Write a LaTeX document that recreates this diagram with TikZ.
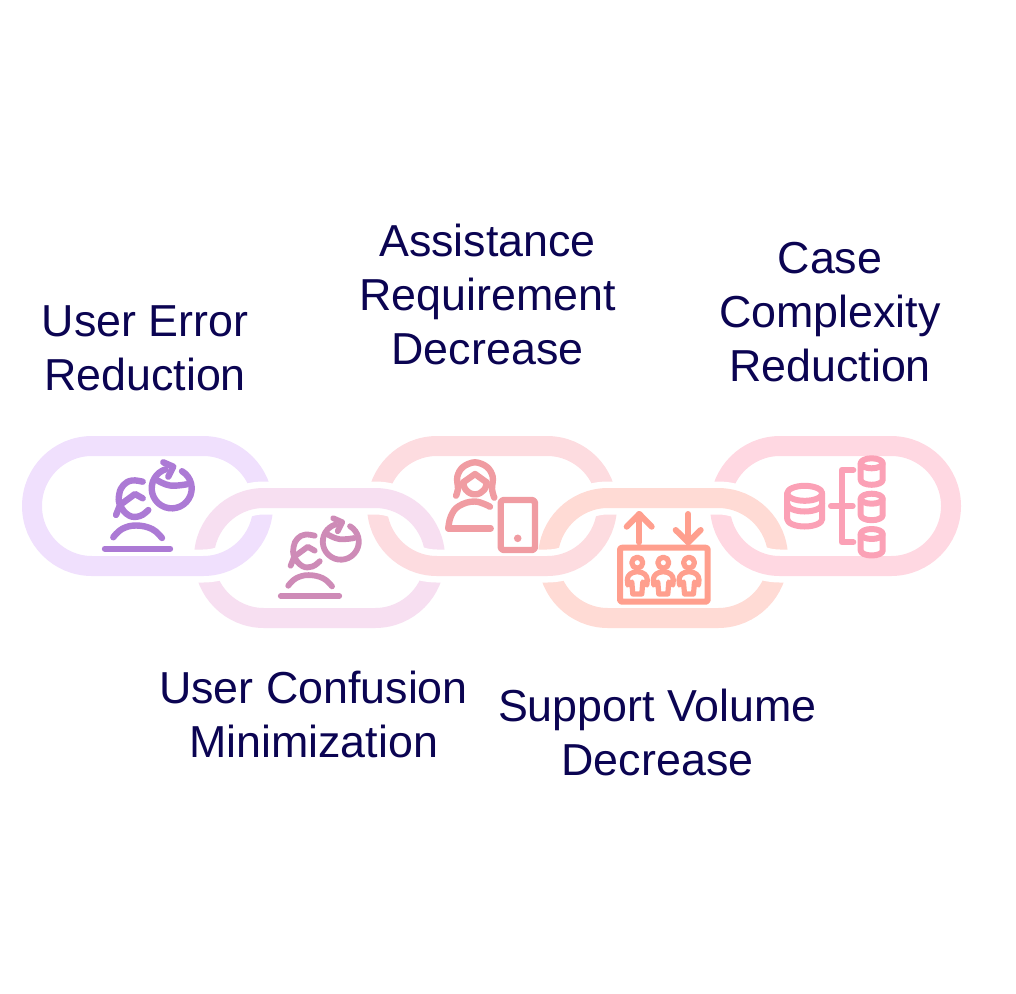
\documentclass[tikz,border=0pt]{standalone}
\usepackage{fontspec}
\setmainfont{Liberation Sans}
\definecolor{linkA}{HTML}{F0E0FD}
\definecolor{linkB}{HTML}{F7DFF1}
\definecolor{linkC}{HTML}{FDDCE0}
\definecolor{linkD}{HTML}{FFDBD5}
\definecolor{linkE}{HTML}{FFD8E2}
\definecolor{iconA}{HTML}{AC7AD5}
\definecolor{iconB}{HTML}{CE8BB7}
\definecolor{iconC}{HTML}{F09CA2}
\definecolor{iconD}{HTML}{FF9F8E}
\definecolor{iconE}{HTML}{FBA1B6}
\definecolor{labelink}{HTML}{0B0452}
\tikzset{
  x=1pt,y=-1pt,
  linkring/.style={line width=20pt,rounded corners=60pt},
  linkhalo/.style={line width=33pt,rounded corners=60pt,draw=white},
  iconline/.style={line width=6.4pt,line cap=round,line join=round},
  caption/.style={font=\fontsize{44.8}{54}\selectfont,text=labelink,align=center,inner sep=0pt},
}
\newcommand\errorperson{%
  \draw (105,548.7) -- (170,548.7);
  \draw plot[smooth,tension=.7] coordinates {(113.3,537.3) (122,529) (136,525.5) (152,529) (162,538)};
  \draw plot[smooth,tension=.7] coordinates {(142.7,481.7) (132,480.5) (123.5,485) (119.3,494) (120,505) (129,515.5) (140,516) (148.3,510)};
  \draw (116,515) -- (120,505) -- (135,494) -- (142.7,498.3);
  \draw (182,471.2) arc[start angle=-59,delta angle=311,radius=20];
  \draw (163.3,462.3) -- (173.3,466.7) -- (168.3,476.7);
  \draw plot[smooth,tension=.7] coordinates {(156.7,480) (170,485.5) (186.7,484.3)};
}
\begin{document}
\begin{tikzpicture}
\useasboundingbox (0,0) rectangle (1016,993);
% lower layer: odd links
\draw[linkring,draw=linkA] (32,446) rectangle (263,566);
\draw[linkring,draw=linkC] (377,446) rectangle (607,566);
\draw[linkring,draw=linkE] (720,446) rectangle (951,566);
% even links pass above them
\draw[linkhalo] (204,498) rectangle (435,618);
\draw[linkhalo] (548,498) rectangle (778,618);
\draw[linkring,draw=linkB] (204,498) rectangle (435,618);
\draw[linkring,draw=linkD] (548,498) rectangle (778,618);
% lower halves of odd links pass above the even links
\begin{scope}
  \clip (0,530) rectangle (1016,640);
  \draw[linkhalo] (32,446) rectangle (263,566);
  \draw[linkhalo] (377,446) rectangle (607,566);
  \draw[linkhalo] (720,446) rectangle (951,566);
  \draw[linkring,draw=linkA] (32,446) rectangle (263,566);
  \draw[linkring,draw=linkC] (377,446) rectangle (607,566);
  \draw[linkring,draw=linkE] (720,446) rectangle (951,566);
\end{scope}
% icon 1 and 2
\begin{scope}[iconline,draw=iconA]
  \errorperson
\end{scope}
\begin{scope}[iconline,line width=5.8pt,draw=iconB,shift={(310,596)},scale=.9,shift={(-137.5,-548.7)}]
  \errorperson
\end{scope}
% icon 3
\begin{scope}[iconline,draw=iconC]
  \draw plot[smooth,tension=.6] coordinates {(456,495.7) (458,489) (457.3,476.7) (463,467) (475,462.3) (487,467) (492.7,476.7) (492,489) (494.3,497.7)};
  \draw (463.3,482.3) -- (475,474) -- (486.5,482.3);
  \draw plot[smooth,tension=.8] coordinates {(463.3,482.3) (466,490) (475,494.3) (484,490) (486.5,482.3)};
  \draw plot[smooth,tension=.7] coordinates {(490,506.7) (475,501.5) (459,506) (451,516) (448.3,528.3)};
  \draw (448.3,528.3) -- (490.7,528.3);
  \draw[rounded corners=3pt] (500.7,500) rectangle (535,550);
  \fill[iconC] (517.7,538.3) circle[radius=3.8];
\end{scope}
% icon 4
\begin{scope}[iconline,line width=6pt,draw=iconD]
  \draw[rounded corners=2pt] (620,547.7) rectangle (707.7,601.7);
  \draw (639.3,542.3) -- (639.3,514);
  \draw (626.7,526.7) -- (639.3,514) -- (651.7,526.7);
  \draw (688.3,514) -- (688.3,542.3);
  \draw (675.7,530) -- (688.3,542.3) -- (700.7,530);
  \foreach \cx in {637.3,663.3,689}{
    \draw[line width=5.2pt] (\cx,562.7) circle[radius=5.5];
    \draw[line width=5.2pt] (\cx,571.7) .. controls (\cx-6,572) and (\cx-10,575) .. (\cx-10,580)
      -- (\cx-9.5,585) -- (\cx-5.5,582) -- (\cx-4.5,594) -- (\cx+4.5,594) -- (\cx+5.5,582) -- (\cx+9.5,585) -- (\cx+10,580)
      .. controls (\cx+10,575) and (\cx+6,572) .. (\cx,571.7);
  };
\end{scope}
% icon 5
\begin{scope}[iconline,line width=6pt,draw=iconE]
  \draw (804.7,493.3) circle[x radius=17.5,y radius=7.5];
  \draw (787.2,493.3) -- (787.2,519) arc[start angle=180,delta angle=-180,x radius=17.5,y radius=7.5] -- (822.2,493.3);
  \draw (787.2,504) arc[start angle=180,delta angle=-180,x radius=17.5,y radius=7.5];
  \draw (853.3,470) -- (841.7,470) -- (841.7,542.3) -- (853.3,542.3);
  \draw (831,506) -- (852.7,506);
  \foreach \ty in {463.3,498.7,534}{
    \draw (871.7,\ty) circle[x radius=11,y radius=5];
    \draw (860.7,\ty) -- (860.7,\ty+16.5) arc[start angle=180,delta angle=-180,x radius=11,y radius=5] -- (882.7,\ty);
  };
\end{scope}
% captions
\node[caption] (errorlabel) at (145,348) {User Error\\Reduction};
\node[caption] (assistlabel) at (487.5,294) {Assistance\\Requirement\\Decrease};
\node[caption] (caselabel) at (830,312) {Case\\Complexity\\Reduction};
\node[caption] (confusionlabel) at (313.5,714) {User Confusion\\Minimization};
\node[caption] (supportlabel) at (657.5,732) {Support Volume\\Decrease};
\end{tikzpicture}
\end{document}
